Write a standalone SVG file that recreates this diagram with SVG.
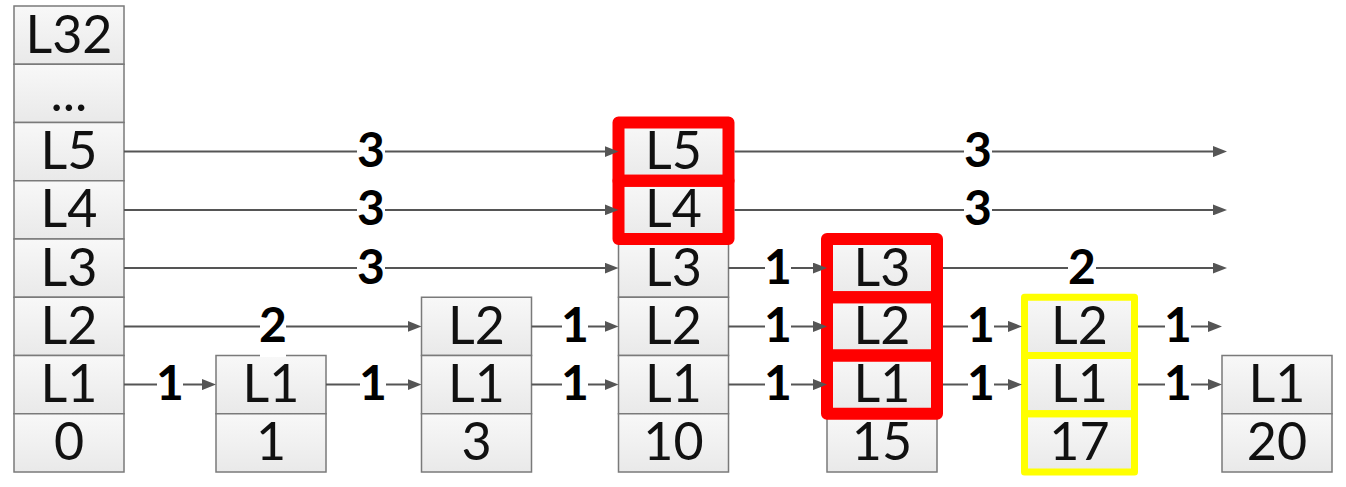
<svg xmlns="http://www.w3.org/2000/svg" width="1346" height="487" viewBox="0 0 1346 487">
<defs>
<linearGradient id="cellg" x1="0" y1="0" x2="0" y2="1">
<stop offset="0" stop-color="#f8f8f8"/>
<stop offset="1" stop-color="#e9e9e9"/>
</linearGradient>
<marker id="arr" markerUnits="userSpaceOnUse" markerWidth="14" markerHeight="11" refX="4" refY="5.5" orient="auto">
<path d="M0,0 L14,5.5 L0,11 z" fill="#555555"/>
</marker>
</defs>
<style>
.cell{fill:url(#cellg);stroke:#7a7a7a;stroke-width:1.5}
.t{font-family:Lato,"Liberation Sans",sans-serif;font-size:52px;fill:#111;text-anchor:middle}
.red{fill:none;stroke:#ff0000;stroke-width:12;stroke-linejoin:round}
.yel{fill:none;stroke:#ffff00;stroke-width:7;stroke-linejoin:round}
.ln{stroke:#555555;stroke-width:2;fill:none;marker-end:url(#arr)}
.bg{fill:#fff}
.lbl{font-family:Lato,"Liberation Sans",sans-serif;font-weight:bold;font-size:48px;fill:#000;text-anchor:middle}
</style>
<rect width="1346" height="487" fill="#fff"/>

<g id="node-0">
<rect class="cell" x="14" y="6" width="110" height="58.25"/>
<rect class="cell" x="14" y="64.25" width="110" height="58.25"/>
<rect class="cell" x="14" y="122.5" width="110" height="58.25"/>
<rect class="cell" x="14" y="180.75" width="110" height="58.25"/>
<rect class="cell" x="14" y="239" width="110" height="58.25"/>
<rect class="cell" x="14" y="297.25" width="110" height="58.25"/>
<rect class="cell" x="14" y="355.5" width="110" height="58.25"/>
<rect class="cell" x="14" y="413.75" width="110" height="58.25"/>
<text class="t" x="69" y="52.5">L32</text>
<text class="t" x="69" y="110.75">...</text>
<text class="t" x="69" y="169">L5</text>
<text class="t" x="69" y="227.25">L4</text>
<text class="t" x="69" y="285.5">L3</text>
<text class="t" x="69" y="343.75">L2</text>
<text class="t" x="69" y="402">L1</text>
<text class="t" x="69" y="460.25">0</text>
</g>

<g id="node-1">
<rect class="cell" x="216" y="355.5" width="110" height="58.25"/>
<rect class="cell" x="216" y="413.75" width="110" height="58.25"/>
<text class="t" x="271" y="402">L1</text>
<text class="t" x="271" y="460.25">1</text>
</g>

<g id="node-3">
<rect class="cell" x="421.5" y="297.25" width="110" height="58.25"/>
<rect class="cell" x="421.5" y="355.5" width="110" height="58.25"/>
<rect class="cell" x="421.5" y="413.75" width="110" height="58.25"/>
<text class="t" x="476.5" y="343.75">L2</text>
<text class="t" x="476.5" y="402">L1</text>
<text class="t" x="476.5" y="460.25">3</text>
</g>

<g id="node-10">
<rect class="cell" x="618.5" y="122.5" width="110" height="58.25"/>
<rect class="cell" x="618.5" y="180.75" width="110" height="58.25"/>
<rect class="cell" x="618.5" y="239" width="110" height="58.25"/>
<rect class="cell" x="618.5" y="297.25" width="110" height="58.25"/>
<rect class="cell" x="618.5" y="355.5" width="110" height="58.25"/>
<rect class="cell" x="618.5" y="413.75" width="110" height="58.25"/>
<text class="t" x="673.5" y="169">L5</text>
<text class="t" x="673.5" y="227.25">L4</text>
<text class="t" x="673.5" y="285.5">L3</text>
<text class="t" x="673.5" y="343.75">L2</text>
<text class="t" x="673.5" y="402">L1</text>
<text class="t" x="673.5" y="460.25">10</text>
<rect class="red" x="618.5" y="122.5" width="110" height="58.25"/>
<rect class="red" x="618.5" y="180.75" width="110" height="58.25"/>
</g>

<g id="node-15">
<rect class="cell" x="827" y="239" width="110" height="58.25"/>
<rect class="cell" x="827" y="297.25" width="110" height="58.25"/>
<rect class="cell" x="827" y="355.5" width="110" height="58.25"/>
<rect class="cell" x="827" y="413.75" width="110" height="58.25"/>
<text class="t" x="882" y="285.5">L3</text>
<text class="t" x="882" y="343.75">L2</text>
<text class="t" x="882" y="402">L1</text>
<text class="t" x="882" y="460.25">15</text>
<rect class="red" x="827" y="239" width="110" height="58.25"/>
<rect class="red" x="827" y="297.25" width="110" height="58.25"/>
<rect class="red" x="827" y="355.5" width="110" height="58.25"/>
</g>

<g id="node-17">
<rect class="cell" x="1024.5" y="297.25" width="110" height="58.25"/>
<rect class="cell" x="1024.5" y="355.5" width="110" height="58.25"/>
<rect class="cell" x="1024.5" y="413.75" width="110" height="58.25"/>
<text class="t" x="1079.5" y="343.75">L2</text>
<text class="t" x="1079.5" y="402">L1</text>
<text class="t" x="1079.5" y="460.25">17</text>
<rect class="yel" x="1024.5" y="297.25" width="110" height="58.25"/>
<rect class="yel" x="1024.5" y="355.5" width="110" height="58.25"/>
<rect class="yel" x="1024.5" y="413.75" width="110" height="58.25"/>
</g>

<g id="node-20">
<rect class="cell" x="1222" y="355.5" width="110" height="58.25"/>
<rect class="cell" x="1222" y="413.75" width="110" height="58.25"/>
<text class="t" x="1277" y="402">L1</text>
<text class="t" x="1277" y="460.25">20</text>
</g>

<g id="connectors">
<line class="ln" x1="124" y1="151.6" x2="608.5" y2="151.6"/>
<line class="ln" x1="734.5" y1="151.6" x2="1217" y2="151.6"/>
<line class="ln" x1="124" y1="209.9" x2="608.5" y2="209.9"/>
<line class="ln" x1="734.5" y1="209.9" x2="1217" y2="209.9"/>
<line class="ln" x1="124" y1="268.1" x2="608.5" y2="268.1"/>
<line class="ln" x1="728.5" y1="268.1" x2="817" y2="268.1"/>
<line class="ln" x1="943" y1="268.1" x2="1217" y2="268.1"/>
<line class="ln" x1="124" y1="326.4" x2="411.5" y2="326.4"/>
<line class="ln" x1="531.5" y1="326.4" x2="608.5" y2="326.4"/>
<line class="ln" x1="728.5" y1="326.4" x2="817" y2="326.4"/>
<line class="ln" x1="943" y1="326.4" x2="1012" y2="326.4"/>
<line class="ln" x1="1138" y1="326.4" x2="1212" y2="326.4"/>
<line class="ln" x1="124" y1="384.6" x2="206" y2="384.6"/>
<line class="ln" x1="326" y1="384.6" x2="411.5" y2="384.6"/>
<line class="ln" x1="531.5" y1="384.6" x2="608.5" y2="384.6"/>
<line class="ln" x1="728.5" y1="384.6" x2="817" y2="384.6"/>
<line class="ln" x1="943" y1="384.6" x2="1012" y2="384.6"/>
<line class="ln" x1="1138" y1="384.6" x2="1212" y2="384.6"/>
<g id="labels">
<rect class="bg" x="357" y="136" width="28" height="32"/>
<rect class="bg" x="964" y="136" width="28" height="32"/>
<rect class="bg" x="357" y="194" width="28" height="32"/>
<rect class="bg" x="964" y="194" width="28" height="32"/>
<rect class="bg" x="357" y="252" width="28" height="32"/>
<rect class="bg" x="765" y="252" width="26" height="32"/>
<rect class="bg" x="1068" y="252" width="28" height="32"/>
<rect class="bg" x="260" y="310" width="26" height="47"/>
<rect class="bg" x="562" y="310" width="26" height="32"/>
<rect class="bg" x="765" y="310" width="26" height="32"/>
<rect class="bg" x="968" y="310" width="26" height="32"/>
<rect class="bg" x="1165" y="310" width="26" height="32"/>
<rect class="bg" x="157" y="369" width="26" height="32"/>
<rect class="bg" x="360" y="369" width="26" height="32"/>
<rect class="bg" x="562" y="369" width="26" height="32"/>
<rect class="bg" x="765" y="369" width="26" height="32"/>
<rect class="bg" x="968" y="369" width="26" height="32"/>
<rect class="bg" x="1165" y="369" width="26" height="32"/>
<text class="lbl" x="371" y="167">3</text>
<text class="lbl" x="978" y="167">3</text>
<text class="lbl" x="371" y="225.3">3</text>
<text class="lbl" x="978" y="225.3">3</text>
<text class="lbl" x="371" y="283.5">3</text>
<text class="lbl" x="778" y="283.5">1</text>
<text class="lbl" x="1082" y="283.5">2</text>
<text class="lbl" x="273" y="341.8">2</text>
<text class="lbl" x="575" y="341.8">1</text>
<text class="lbl" x="778" y="341.8">1</text>
<text class="lbl" x="981" y="341.8">1</text>
<text class="lbl" x="1178" y="341.8">1</text>
<text class="lbl" x="170" y="400">1</text>
<text class="lbl" x="373" y="400">1</text>
<text class="lbl" x="575" y="400">1</text>
<text class="lbl" x="778" y="400">1</text>
<text class="lbl" x="981" y="400">1</text>
<text class="lbl" x="1178" y="400">1</text>
</g>
</g>
</svg>
